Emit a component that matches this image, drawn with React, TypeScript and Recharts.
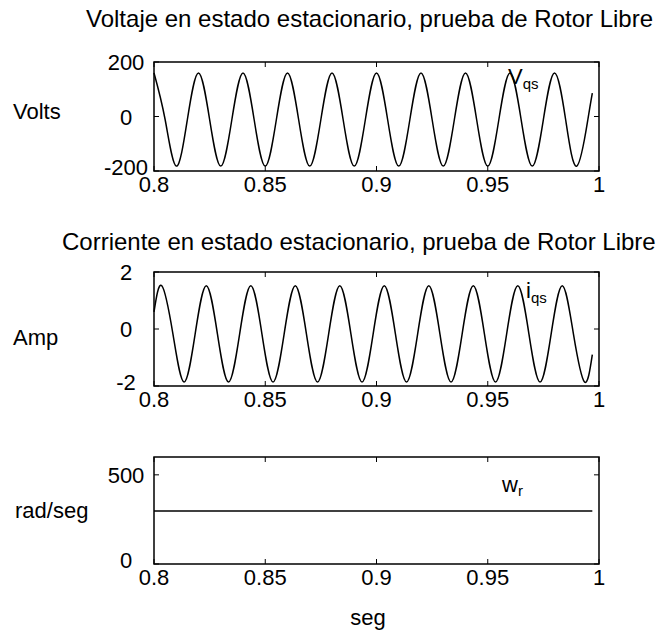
import { LineChart, Line, XAxis, YAxis, ReferenceArea } from 'recharts'

const FONT = '"Liberation Sans", Arial, Helvetica, sans-serif'

// time axis (s)
const timeTicks = [0.8, 0.85, 0.9, 0.95, 1]

// stator q-axis voltage, one sample every quarter cycle (50 Hz)
const vqsTime = [
  0.8, 0.805, 0.81, 0.815, 0.82, 0.825, 0.83, 0.835, 0.84, 0.845,
  0.85, 0.855, 0.86, 0.865, 0.87, 0.875, 0.88, 0.885, 0.89, 0.895,
  0.9, 0.905, 0.91, 0.915, 0.92, 0.925, 0.93, 0.935, 0.94, 0.945,
  0.95, 0.955, 0.96, 0.965, 0.97, 0.975, 0.98, 0.985, 0.99, 0.995,
  0.997,
]
const vqsValues = [
  160, -11, -182, -11, 160, -11, -182, -11, 160, -11,
  -182, -11, 160, -11, -182, -11, 160, -11, -182, -11,
  160, -11, -182, -11, 160, -11, -182, -11, 160, -11,
  -182, -11, 160, -11, -182, -11, 160, -11, -182, -11,
  86,
]

// stator q-axis current, lagging the voltage
const iqsTime = [
  0.8, 0.8035, 0.8085, 0.8135, 0.8185, 0.8235, 0.8285, 0.8335, 0.8385, 0.8435,
  0.8485, 0.8535, 0.8585, 0.8635, 0.8685, 0.8735, 0.8785, 0.8835, 0.8885, 0.8935,
  0.8985, 0.9035, 0.9085, 0.9135, 0.9185, 0.9235, 0.9285, 0.9335, 0.9385, 0.9435,
  0.9485, 0.9535, 0.9585, 0.9635, 0.9685, 0.9735, 0.9785, 0.9835, 0.9885, 0.9935,
  0.997,
]
const iqsValues = [
  0.6, 1.52, -0.17, -1.86, -0.17, 1.52, -0.17, -1.86, -0.17, 1.52,
  -0.17, -1.86, -0.17, 1.52, -0.17, -1.86, -0.17, 1.52, -0.17, -1.86,
  -0.17, 1.52, -0.17, -1.86, -0.17, 1.52, -0.17, -1.86, -0.17, 1.52,
  -0.17, -1.86, -0.17, 1.52, -0.17, -1.86, -0.17, 1.52, -0.17, -1.86,
  -0.9,
]

// rotor speed (rad/s)
const wrTime = [0.8, 0.997]
const wrValues = [297, 297]

const voltTicks = [-200, 0, 200]
const ampTicks = [-2, 0, 2]
const speedTicks = [0, 500]

type Point = { t: number; v: number }

const toPoints = (time: number[], values: number[]): Point[] =>
  time.map((t, i) => ({ t, v: values[i] }))

const PLOT_LEFT = 154
const PLOT_RIGHT = 599
const CHART_W = 671
const PAD_TOP = 20
const AXIS_H = 34
const TICK_LEN = 5

type PanelProps = {
  top: number
  plotHeight: number
  data: Point[]
  domain: [number, number]
  yTicks: number[]
  curve: 'natural' | 'linear'
}

function Panel({ top, plotHeight, data, domain, yTicks, curve }: PanelProps) {
  const timeTick = (props: any) => {
    const { x, y, payload } = props
    return (
      <g>
        <line x1={x} x2={x} y1={y} y2={y - TICK_LEN} stroke="#000" strokeWidth={1} />
        <line
          x1={x}
          x2={x}
          y1={y - plotHeight}
          y2={y - plotHeight + TICK_LEN}
          stroke="#000"
          strokeWidth={1}
        />
        <text x={x} y={y + 21} textAnchor="middle" fontSize={22} fontFamily={FONT} fill="#000">
          {String(payload.value)}
        </text>
      </g>
    )
  }

  const valueTick = (props: any) => {
    const { y, payload } = props
    // lowest label sits a little above the bottom edge, clear of the time labels
    const lift = payload.value === domain[0] ? 4 : 0
    return (
      <g>
        <line x1={PLOT_LEFT} x2={PLOT_LEFT + TICK_LEN} y1={y} y2={y} stroke="#000" strokeWidth={1} />
        <line x1={PLOT_RIGHT - TICK_LEN} x2={PLOT_RIGHT} y1={y} y2={y} stroke="#000" strokeWidth={1} />
        <text x={126} y={y + 8 - lift} textAnchor="middle" fontSize={22} fontFamily={FONT} fill="#000">
          {String(payload.value)}
        </text>
      </g>
    )
  }

  return (
    <div style={{ position: 'absolute', left: 0, top: top - PAD_TOP }}>
      <LineChart
        width={CHART_W}
        height={PAD_TOP + plotHeight + AXIS_H}
        data={data}
        margin={{ top: PAD_TOP, right: CHART_W - PLOT_RIGHT, bottom: 0, left: 0 }}
      >
        <XAxis
          dataKey="t"
          type="number"
          domain={[0.8, 1]}
          ticks={timeTicks}
          interval={0}
          height={AXIS_H}
          axisLine={false}
          tickLine={false}
          tickSize={0}
          tickMargin={0}
          tick={timeTick}
        />
        <YAxis
          type="number"
          domain={domain}
          ticks={yTicks}
          interval={0}
          width={PLOT_LEFT}
          axisLine={false}
          tickLine={false}
          tickSize={0}
          tickMargin={0}
          tick={valueTick}
        />
        <ReferenceArea
          x1={0.8}
          x2={1}
          y1={domain[0]}
          y2={domain[1]}
          fill="none"
          stroke="#000"
          strokeWidth={1.5}
        />
        <Line
          type={curve}
          dataKey="v"
          stroke="#000"
          strokeWidth={1.5}
          dot={false}
          isAnimationActive={false}
        />
      </LineChart>
    </div>
  )
}

const textStyle = { fontFamily: FONT, fill: '#000' }

export default function App() {
  return (
    <div
      style={{
        position: 'absolute',
        left: 0,
        top: 0,
        width: CHART_W,
        height: 638,
        background: '#fff',
        overflow: 'hidden',
      }}
    >
      <Panel
        top={62}
        plotHeight={109}
        data={toPoints(vqsTime, vqsValues)}
        domain={[-200, 200]}
        yTicks={voltTicks}
        curve="natural"
      />
      <Panel
        top={272}
        plotHeight={114}
        data={toPoints(iqsTime, iqsValues)}
        domain={[-2, 2]}
        yTicks={ampTicks}
        curve="natural"
      />
      <Panel
        top={457}
        plotHeight={107}
        data={toPoints(wrTime, wrValues)}
        domain={[0, 600]}
        yTicks={speedTicks}
        curve="linear"
      />
      <svg
        width={CHART_W}
        height={638}
        style={{ position: 'absolute', left: 0, top: 0, pointerEvents: 'none' }}
      >
        <text x={86} y={27} fontSize={24} {...textStyle}>
          Voltaje en estado estacionario, prueba de Rotor Libre
        </text>
        <text x={62} y={250} fontSize={24} {...textStyle}>
          Corriente en estado estacionario, prueba de Rotor Libre
        </text>

        <text x={13} y={119} fontSize={22} {...textStyle}>Volts</text>
        <text x={13} y={345} fontSize={22} {...textStyle}>Amp</text>
        <text x={15} y={518} fontSize={22} {...textStyle}>rad/seg</text>
        <text x={368} y={625} fontSize={22} textAnchor="middle" {...textStyle}>seg</text>

        <text x={508} y={84} fontSize={22} {...textStyle}>
          V<tspan fontSize={15} dy={5}>qs</tspan>
        </text>
        <text x={526} y={298} fontSize={22} {...textStyle}>
          i<tspan fontSize={15} dy={5}>qs</tspan>
        </text>
        <text x={502} y={492} fontSize={22} {...textStyle}>
          w<tspan fontSize={15} dy={4}>r</tspan>
        </text>
      </svg>
    </div>
  )
}
